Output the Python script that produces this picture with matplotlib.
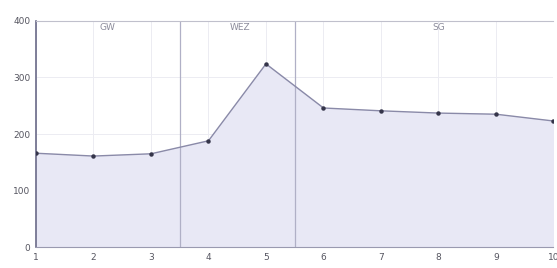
import numpy as np
import matplotlib
matplotlib.use("Agg")
import matplotlib.pyplot as plt

x = [1, 2, 3, 4, 5, 6, 7, 8, 9, 10]
hardness = [166, 161, 165, 188, 324, 246, 241, 237, 235, 223]
zone_names = ["GW", "WEZ", "SG"]
zone_label_x = [2.25, 4.55, 8.0]
zone_bounds = [3.5, 5.5]

fig = plt.figure(figsize=(5.57, 2.68), dpi=100)
ax = fig.add_axes([0.0646, 0.078, 0.929, 0.844])

ax.fill_between(x, 0, hardness, color="#e8e8f5", zorder=1)
ax.plot(x, hardness, color="#8a8aa8", lw=1.0, zorder=3)
ax.plot(x, hardness, "o", color="#35354a", ms=2.2, zorder=4)

for b in zone_bounds:
    ax.axvline(b, color="#b0b0c6", lw=0.9, zorder=2)
for name, lx in zip(zone_names, zone_label_x):
    ax.text(lx, 388, name, ha="center", va="center", fontsize=6.5, color="#8a8a9a")

ax.set_xlim(1, 10)
ax.set_ylim(0, 400)
ax.set_xticks(x)
ax.set_yticks([0, 100, 200, 300, 400])
ax.grid(True, color="#ececf2", lw=0.7, zorder=0)
ax.set_axisbelow(True)

ax.spines["right"].set_visible(False)
ax.spines["top"].set_color("#c0c0cc")
ax.spines["left"].set_color("#6a6a88")
ax.spines["left"].set_linewidth(1.2)
ax.spines["bottom"].set_color("#9a9ab0")
ax.tick_params(axis="both", length=0, labelsize=6.5, labelcolor="#555560", pad=4)

fig.savefig("out.png", dpi=100)
